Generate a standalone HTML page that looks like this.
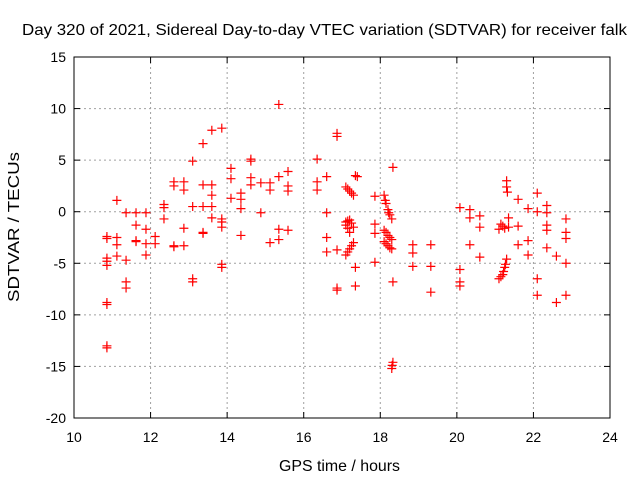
<!DOCTYPE html>
<html><head><meta charset="utf-8"><style>
body{margin:0;background:#fff}
svg text{font-family:"Liberation Sans",sans-serif;font-size:14px;fill:#000}
svg text.big{font-size:16px}
</style></head><body>
<svg id="chart" width="640" height="480">
<text class="big" x="22" y="35" textLength="605" lengthAdjust="spacingAndGlyphs">Day 320 of 2021, Sidereal Day-to-day VTEC variation (SDTVAR) for receiver falk</text>
<text class="big" x="279" y="471" textLength="121" lengthAdjust="spacingAndGlyphs">GPS time / hours</text>
<text class="big" x="0" y="0" textLength="150" lengthAdjust="spacingAndGlyphs" transform="translate(19 302) rotate(-90)">SDTVAR / TECUs</text>
<g id="grid"></g><g id="axes"></g><g id="marks"></g>
<rect x="74" y="57" width="536" height="361" fill="none" stroke="#000"/>
</svg>
<script>
const xTicks=[10,12,14,16,18,20,22,24];
const yTicks=[15,10,5,0,-5,-10,-15,-20];
const xs=[10.86,10.86,10.86,10.86,10.86,10.86,10.86,10.86,10.86,11.12,11.12,11.12,11.12,11.36,11.36,11.36,11.36,11.62,11.62,11.62,11.62,11.88,11.88,11.88,11.88,12.12,12.12,12.35,12.35,12.35,12.61,12.61,12.61,12.61,12.87,12.87,12.87,12.87,13.1,13.1,13.1,13.1,13.37,13.37,13.37,13.37,13.37,13.6,13.6,13.6,13.6,13.6,13.86,13.86,13.86,13.86,13.86,13.86,14.1,14.1,14.1,14.36,14.36,14.36,14.36,14.62,14.62,14.62,14.62,14.88,14.88,15.12,15.12,15.12,15.35,15.35,15.35,15.35,15.59,15.59,15.59,15.59,16.35,16.35,16.35,16.6,16.6,16.6,16.6,16.87,16.87,16.87,16.87,16.87,17.1,17.15,17.2,17.25,17.3,17.35,17.4,17.1,17.15,17.2,17.25,17.3,17.2,17.1,17.15,17.1,17.15,17.2,17.25,17.3,17.35,17.35,17.86,17.86,17.86,17.86,18.1,18.13,18.15,18.2,18.22,18.25,18.3,18.1,18.15,18.2,18.25,18.3,18.1,18.15,18.2,18.25,18.3,18.33,18.33,18.33,18.31,18.3,18.85,18.85,18.85,19.32,19.32,19.32,20.08,20.08,20.08,20.08,20.34,20.34,20.34,20.6,20.6,20.6,21.3,21.3,21.32,21.15,21.2,21.25,21.35,21.1,21.3,21.27,21.25,21.22,21.2,21.15,21.1,21.35,21.6,21.6,21.6,21.86,21.86,21.86,22.1,22.1,22.1,22.1,22.35,22.35,22.35,22.35,22.35,22.6,22.6,22.85,22.85,22.85,22.85,22.85];
const ys=[-2.4,-2.6,-4.5,-4.8,-5.2,-8.8,-9.0,-13,-13.2,1.1,-2.5,-3.2,-4.3,-0.1,-4.7,-6.8,-7.4,-0.1,-1.3,-2.8,-2.9,-0.1,-1.7,-3.1,-4.2,-2.4,-3.1,0.7,0.4,-0.7,2.9,2.5,-3.3,-3.4,2.9,2.1,-1.6,-3.3,4.9,0.5,-6.5,-6.8,6.6,2.6,0.5,-2.0,-2.1,7.9,2.6,1.6,0.5,-0.6,8.1,-0.7,-1.0,-1.5,-5.1,-5.4,4.2,1.3,3.2,1.8,1.2,0.3,-2.3,5.1,4.9,3.3,2.6,2.8,-0.1,2.8,2.1,-3.0,10.4,3.4,-1.7,-2.7,3.9,2.5,2.0,-1.8,5.1,2.9,2.1,3.4,-0.1,-2.5,-3.9,7.6,7.3,-3.7,-7.4,-7.6,2.4,2.2,2.0,1.8,1.6,3.5,3.4,-1.0,-0.9,-0.8,-1.1,-1.5,-2.0,-1.3,-1.6,-4.2,-3.9,-3.6,-3.3,-3.0,-5.4,-7.2,1.5,-1.2,-2.1,-4.9,1.6,1.1,0.8,0.2,-0.1,-0.3,-0.7,-1.8,-2.0,-2.3,-2.5,-2.7,-2.9,-3.1,-3.3,-3.5,-3.6,4.3,-6.8,-14.6,-14.9,-15.2,-3.2,-4.0,-5.3,-3.2,-5.3,-7.8,0.4,-5.6,-6.8,-7.2,0.2,-0.6,-3.2,-0.4,-1.5,-4.4,3.0,2.4,1.9,-1.2,-1.4,-1.6,-1.5,-1.7,-4.6,-5.1,-5.4,-5.8,-6.1,-6.3,-6.5,-0.6,1.2,-1.4,-3.2,0.3,-2.8,-4.2,1.8,0.0,-6.5,-8.1,0.6,-0.1,-1.3,-1.8,-3.5,-4.3,-8.8,-0.7,-2.0,-2.6,-8.1,-5.0];
const L=74,R=610,T=57,B=418;
const X=v=>L+(v-10)/(24-10)*(R-L);
const Y=v=>T+(15-v)/(15-(-20))*(B-T);
const NS='http://www.w3.org/2000/svg';
const grid=document.getElementById('grid'),axes=document.getElementById('axes'),marks=document.getElementById('marks');
function mk(tag,attrs,parent){const e=document.createElementNS(NS,tag);for(const k in attrs)e.setAttribute(k,attrs[k]);parent.appendChild(e);return e;}
xTicks.forEach(t=>{const x=X(t);
 if(t>10&&t<24){const g=mk('line',{x1:x,x2:x,y1:T,y2:B,stroke:'#a0a0a0','stroke-dasharray':'2,3'},grid);
 
 }
 mk('line',{x1:x,x2:x,y1:B,y2:B-6,stroke:'#000'},axes);mk('line',{x1:x,x2:x,y1:T,y2:T+6,stroke:'#000'},axes);
 const tx=mk('text',{x:x,y:B+24,'text-anchor':'middle'},axes);tx.textContent=t;
 
 });
yTicks.forEach(t=>{const y=Y(t);
 if(t<15&&t>-20){const g=mk('line',{x1:L,x2:R,y1:y,y2:y,stroke:'#a0a0a0','stroke-dasharray':'2,3'},grid);
 
 }
 mk('line',{x1:L,x2:L+6,y1:y,y2:y,stroke:'#000'},axes);mk('line',{x1:R,x2:R-6,y1:y,y2:y,stroke:'#000'},axes);
 const tx=mk('text',{x:L-8,y:y+5,'text-anchor':'end'},axes);tx.textContent=t;
 
 });
xs.forEach((v,i)=>{const x=X(v),y=Y(ys[i]);
 const p=mk('path',{d:`M${x-4.5},${y}H${x+4.5}M${x},${y-4.5}V${y+4.5}`,stroke:'#ff0000','stroke-width':1.2,fill:'none'},marks);
 
 });
</script>
</body></html>
